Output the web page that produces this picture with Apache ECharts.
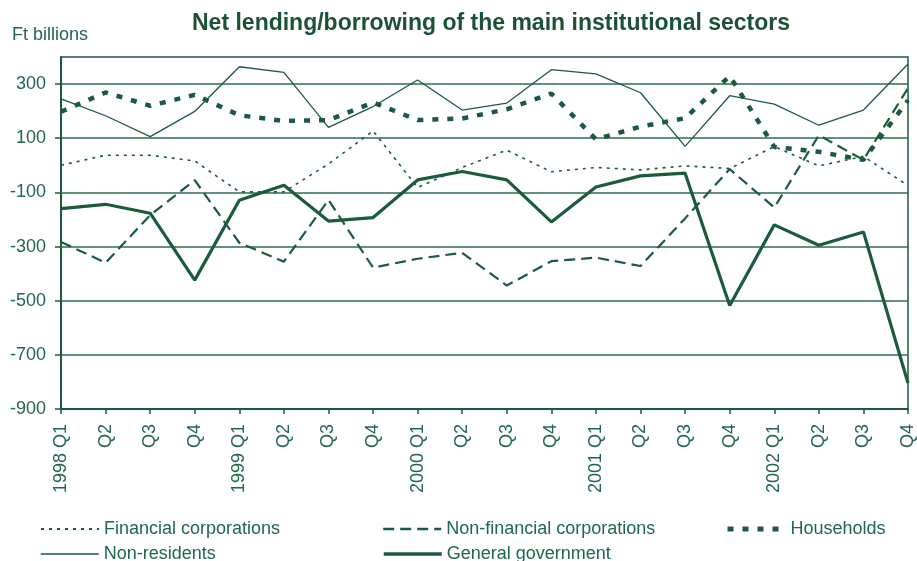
<!DOCTYPE html>
<html>
<head>
<meta charset="utf-8">
<title>Net lending/borrowing of the main institutional sectors</title>
<script src="https://cdn.jsdelivr.net/npm/echarts@6/dist/echarts.min.js"></script>
<style>
  html, body { margin: 0; padding: 0; background: #fff; }
  #chart { width: 917px; height: 561px; }
</style>
</head>
<body>
<div id="chart"></div>
<script>
// quarters, 1998 Q1 .. 2002 Q4
var quarters = ['1998 Q1', 'Q2', 'Q3', 'Q4', '1999 Q1', 'Q2', 'Q3', 'Q4',
    '2000 Q1', 'Q2', 'Q3', 'Q4', '2001 Q1', 'Q2', 'Q3', 'Q4',
    '2002 Q1', 'Q2', 'Q3', 'Q4'];

// Ft billions
var financialCorp = [0, 37, 37, 16, -98, -98, 5, 127, -82, -8, 56, -24, -8, -17, -2, -12, 69, -2, 33, -75];
var nonFinancialCorp = [-283, -360, -184, -55, -286, -356, -128, -378, -345, -323, -444, -354, -341, -372, -196, -14, -156, 111, 20, 285];
var households = [198, 269, 220, 260, 185, 164, 167, 232, 167, 173, 207, 265, 96, 143, 174, 330, 68, 50, 20, 240];
var nonResidents = [245, 183, 106, 199, 364, 343, 140, 217, 315, 204, 230, 353, 338, 268, 70, 257, 226, 148, 204, 374];
var generalGov = [-160, -144, -177, -424, -129, -74, -206, -193, -54, -23, -54, -209, -80, -39, -29, -518, -220, -295, -246, -804];

// y axis labels
var yTicks = [-900, -700, -500, -300, -100, 100, 300];

var green = '#1a5c3a';
var textGreen = '#216847';
var font = "'Liberation Sans', Arial, sans-serif";

var chart = echarts.init(document.getElementById('chart'), null, { renderer: 'canvas' });

function legendAt(name, left, top, width) {
    return {
        data: [name],
        left: left,
        top: top,
        padding: 0,
        itemWidth: 58,
        itemHeight: 14,
        selectedMode: false,
        itemStyle: { opacity: 0 },   // hide the symbol, keep the line
        lineStyle: { width: width },
        textStyle: { color: textGreen, fontSize: 18, fontFamily: font }
    };
}

function lineSeries(name, data, width, dash) {
    return {
        name: name,
        type: 'line',
        data: data,
        symbol: 'none',
        silent: true,
        lineStyle: { color: green, width: width, type: dash || 'solid', cap: 'butt' },
        itemStyle: { color: green }
    };
}

var fin = lineSeries('Financial corporations', financialCorp, 1.6, [3, 5]);
// horizontal grid lines through the y scale
fin.markLine = {
    silent: true,
    symbol: 'none',
    z: 1,
    animation: false,
    label: { show: false },
    lineStyle: { color: '#2e6e4b', width: 1.6, type: 'solid' },
    emphasis: { disabled: true },
    data: yTicks.filter(function (v) { return v > -900; }).map(function (v) { return { yAxis: v }; })
};

var option = {
    animation: false,
    backgroundColor: '#fff',
    title: [{
        text: 'Net lending/borrowing of the main institutional sectors',
        left: 192,
        top: 12,
        padding: 0,
        textStyle: { color: '#1b5234', fontSize: 23, fontWeight: 'bold', fontFamily: font }
    }, {
        text: 'Ft billions',
        left: 12,
        top: 26,
        padding: 0,
        textStyle: { color: textGreen, fontSize: 18, fontWeight: 'normal', fontFamily: font }
    }],
    legend: [
        legendAt('Financial corporations', 40, 520, 2),
        legendAt('Non-financial corporations', 382, 520, 2.4),
        legendAt('Households', 725, 520, 5),
        legendAt('Non-residents', 40, 545, 1.5),
        legendAt('General government', 382, 545, 3.5)
    ],
    grid: {
        left: 61,
        right: 9,
        top: 57,
        bottom: 152,
        show: true,
        borderColor: green,
        borderWidth: 1.5,
        backgroundColor: 'transparent'
    },
    xAxis: {
        type: 'category',
        data: quarters,
        boundaryGap: false,
        axisLine: { onZero: false, lineStyle: { color: green, width: 2 } },
        axisTick: { show: true, interval: 0, length: 5, lineStyle: { color: green, width: 1.5 } },
        axisLabel: {
            interval: 0,
            rotate: 90,
            margin: 15,
            color: textGreen,
            fontSize: 18,
            fontFamily: font
        },
        splitLine: { show: false }
    },
    yAxis: {
        type: 'value',
        min: -900,
        max: 400,
        interval: 100,
        axisLine: { show: true, lineStyle: { color: green, width: 2 } },
        axisTick: { show: true, length: 6, customValues: yTicks, lineStyle: { color: green, width: 1.5 } },
        axisLabel: {
            customValues: yTicks,
            margin: 15,
            color: textGreen,
            fontSize: 18,
            fontFamily: font
        },
        splitLine: { show: false }
    },
    series: [
        fin,
        lineSeries('Non-financial corporations', nonFinancialCorp, 2.2, [11, 6]),
        lineSeries('Households', households, 4.5, [6, 9]),
        lineSeries('Non-residents', nonResidents, 1.3),
        lineSeries('General government', generalGov, 3.2)
    ]
};

chart.setOption(option);
</script>
</body>
</html>
